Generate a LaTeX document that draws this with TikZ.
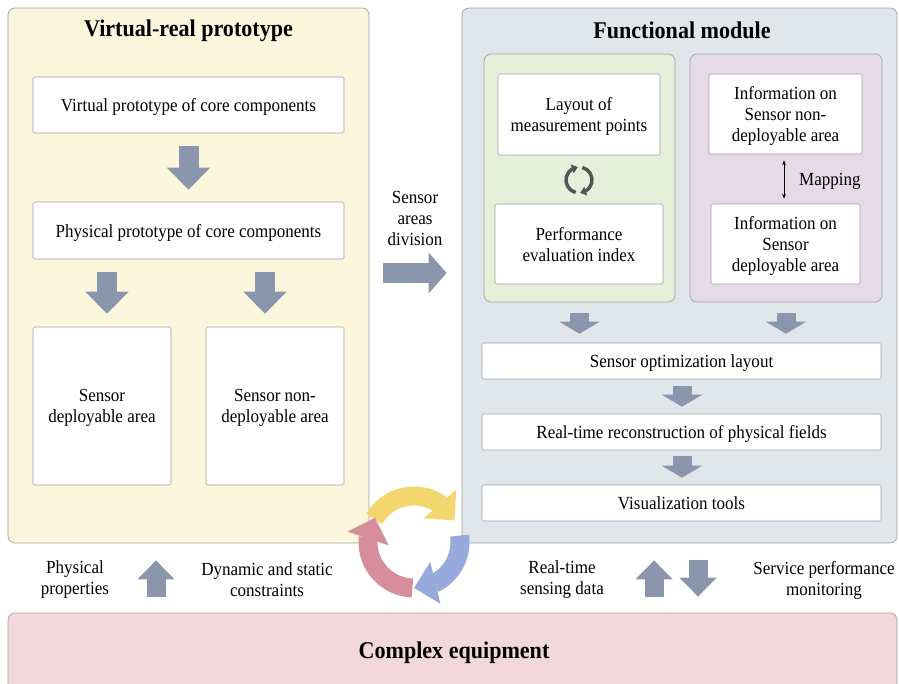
\documentclass[tikz,border=0pt]{standalone}
\usepackage{fontspec}
\setmainfont{Liberation Serif}[FakeStretch=0.92]
\usetikzlibrary{arrows.meta,bending,calc}

\definecolor{vryellow}{RGB}{252,246,220}
\definecolor{fmgray}{RGB}{224,230,234}
\definecolor{pegreen}{RGB}{230,239,218}
\definecolor{mppurple}{RGB}{230,218,232}
\definecolor{cepink}{RGB}{240,216,220}
\definecolor{bordergray}{RGB}{160,160,160}
\definecolor{arrowgray}{RGB}{138,150,172}
\definecolor{cyyellow}{RGB}{244,214,110}
\definecolor{cyblue}{RGB}{152,170,220}
\definecolor{cypink}{RGB}{214,142,154}
\definecolor{icongray}{RGB}{85,85,85}

\begin{document}
\begin{tikzpicture}[x=1pt,y=-1pt,
	panel/.style={draw=bordergray, line width=0.7pt, rounded corners=7pt, inner sep=0pt},
	textbox/.style={draw=bordergray, fill=white, line width=0.6pt, rounded corners=1.5pt,
		inner sep=0pt, text depth=0pt, align=center, font=\fontsize{18.5}{21}\selectfont},
	plaintext/.style={align=center, inner sep=0pt, font=\fontsize{18.5}{21}\selectfont},
	titletext/.style={inner sep=0pt, font=\fontsize{24}{28}\selectfont\bfseries},
	bigarrow/.style={draw=arrowgray, line width=20pt, -{Triangle[width=42pt,length=22pt]}},
	smallarrow/.style={draw=arrowgray, line width=19pt, -{Triangle[width=40pt,length=12pt]}},
	sidearrow/.style={draw=arrowgray, line width=19pt, -{Triangle[width=36pt,length=19pt]}},
	cyclearrow/.style={line width=19pt, -{Triangle[width=42pt,length=22pt]}}]
	\useasboundingbox (0,0) rectangle (899,683);

	% panels
	\node[panel, fill=vryellow, minimum width=361pt, minimum height=535pt] (vr) at (188.5,275.5) {};
	\node[panel, fill=fmgray, minimum width=435pt, minimum height=535pt] (fm) at (679.5,275.5) {};
	\node[panel, fill=cepink, minimum width=889pt, minimum height=87pt] (ce) at (452.5,656.5) {};
	\node[panel, fill=pegreen, minimum width=191pt, minimum height=248pt] (gp) at (579.5,178) {};
	\node[panel, fill=mppurple, minimum width=192pt, minimum height=248pt] (pp) at (786,178) {};

	\node[titletext] (vrtitle) at (188.5,30.5) {Virtual-real prototype};
	\node[titletext] (fmtitle) at (682,30.5) {Functional module};
	\node[titletext] (cetitle) at (454,652.5) {Complex equipment};

	% left side
	\node[textbox, minimum width=311pt, minimum height=56pt] (vp) at (188.5,105) {Virtual prototype of core components};
	\node[textbox, minimum width=311pt, minimum height=57pt] (ph) at (188.5,230.5) {Physical prototype of core components};
	\node[textbox, minimum width=138pt, minimum height=158pt] (sd) at (102,406) {Sensor\\deployable area};
	\node[textbox, minimum width=138pt, minimum height=158pt] (snd) at (275,406) {Sensor non-\\deployable area};

	\draw[bigarrow] ([yshift=-13pt]vp.south) -- ([yshift=12pt]ph.north);
	\draw[bigarrow] ([xshift=-81.5pt,yshift=-13pt]ph.south) -- ([xshift=5pt,yshift=13pt]sd.north);
	\draw[bigarrow] ([xshift=76.5pt,yshift=-13pt]ph.south) -- ([xshift=-10pt,yshift=13pt]snd.north);

	% division
	\node[plaintext] (div) at (415,218.5) {Sensor\\areas\\division};
	\draw[draw=arrowgray, line width=20pt, -{Triangle[width=40pt,length=18pt]}]
		([shift={(14pt,2.5pt)}]vr.east) -- ([shift={(-15pt,2.5pt)}]fm.west);

	% right side
	\node[textbox, minimum width=162pt, minimum height=81pt] (lm) at (579,114.5) {Layout of\\measurement points};
	\node[textbox, minimum width=168pt, minimum height=80pt] (pe) at (579,244) {Performance\\evaluation index};
	\node[textbox, minimum width=153pt, minimum height=80pt] (ind) at (785.5,114) {Information on\\Sensor non-\\deployable area};
	\node[textbox, minimum width=149pt, minimum height=80pt] (id) at (785.5,244) {Information on\\Sensor\\deployable area};
	\node[textbox, minimum width=399pt, minimum height=36pt] (so) at (681.5,361) {Sensor optimization layout};
	\node[textbox, minimum width=399pt, minimum height=36pt] (rt) at (681.5,432) {Real-time reconstruction of physical fields};
	\node[textbox, minimum width=399pt, minimum height=36pt] (vt) at (681.5,503) {Visualization tools};

	% small cycle icon
	\coordinate (icon) at (579,180);
	\draw[icongray, line width=3.5pt, -{Triangle[width=9pt,length=6pt]}]
		($(icon)+(255:13pt)$) arc[start angle=255, end angle=95, radius=13pt];
	\draw[icongray, line width=3.5pt, -{Triangle[width=9pt,length=6pt]}]
		($(icon)+(75:13pt)$) arc[start angle=75, end angle=-85, radius=13pt];

	\draw[{Stealth[length=5pt]}-{Stealth[length=5pt]}, line width=0.8pt] ([xshift=-1.5pt,yshift=-6pt]ind.south) -- ([xshift=-1.5pt,yshift=5pt]id.north);
	\node[plaintext, anchor=west] (map) at (799,181) {Mapping};

	\draw[smallarrow] ([yshift=-11pt]gp.south) -- ([yshift=9pt]gp.south |- so.north);
	\draw[smallarrow] ([yshift=-11pt]pp.south) -- ([yshift=9pt]pp.south |- so.north);
	\draw[smallarrow] ([xshift=0.5pt,yshift=-7pt]so.south) -- ([xshift=0.5pt,yshift=7pt]rt.north);
	\draw[smallarrow] ([xshift=0.5pt,yshift=-6pt]rt.south) -- ([xshift=0.5pt,yshift=7pt]vt.north);

	% bottom
	\node[plaintext] (phys) at (75,580) {Physical\\properties};
	\node[plaintext] (cons) at (267,580) {Dynamic and static\\constraints};
	\node[plaintext] (sens) at (562,580) {Real-time\\sensing data};
	\node[plaintext] (serv) at (824,580) {Service performance\\monitoring};

	\draw[sidearrow] ([yshift=16pt]ce.north -| 156,0) -- ([yshift=-17pt]vr.south -| 156,0);
	\draw[sidearrow] ([yshift=16pt]ce.north -| 654,0) -- ([yshift=-17pt]fm.south -| 654,0);
	\draw[sidearrow] ([yshift=-17pt]fm.south -| 698,0) -- ([yshift=16pt]ce.north -| 698,0);

	% big cycle
	\coordinate (cyc) at (414,542);
	\draw[cyclearrow, cyyellow] ($(cyc)+(150:46pt)$) arc[start angle=150, end angle=28, radius=46pt];
	\draw[cyclearrow, cypink] ($(cyc)+(-92:46pt)$) arc[start angle=-92, end angle=-212, radius=46pt];
	\draw[cyclearrow, cyblue] ($(cyc)+(8:46pt)$) arc[start angle=8, end angle=-90, radius=46pt];
\end{tikzpicture}
\end{document}
